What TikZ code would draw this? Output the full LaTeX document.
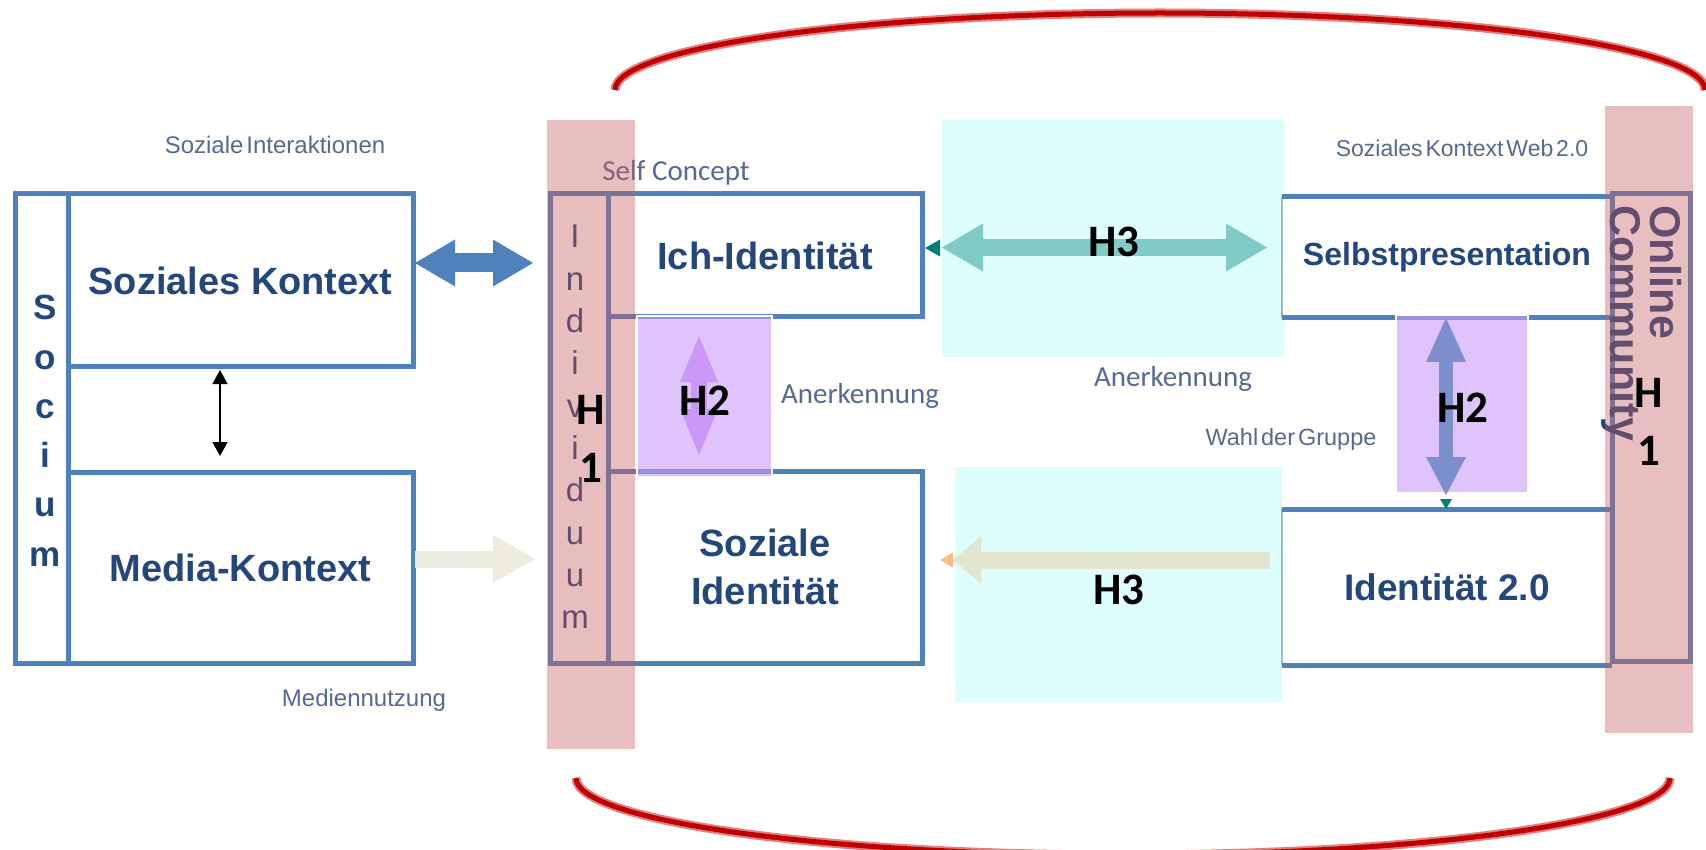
\documentclass[tikz,border=0pt]{standalone}
\usepackage{fontspec}
\setmainfont{Liberation Sans}
\newfontfamily\calfont{Carlito}
\newfontfamily\narrowfont[WordSpace=0.45]{Liberation Sans}
\usepackage{tikz}
\usetikzlibrary{arrows.meta}

\definecolor{boxblue}{RGB}{79,129,189}
\definecolor{txtblue}{RGB}{35,70,125}
\definecolor{lblblue}{RGB}{85,105,145}
\definecolor{pinkband}{RGB}{197,92,92}
\definecolor{cyanbg}{RGB}{222,253,253}
\definecolor{lilac}{RGB}{201,155,250}
\definecolor{lilacarrow}{RGB}{203,152,247}
\definecolor{tealarrow}{RGB}{126,203,199}
\definecolor{tealdark}{RGB}{0,130,120}
\definecolor{beigearrow}{RGB}{237,236,222}
\definecolor{beigegreen}{RGB}{226,229,207}
\definecolor{orangetip}{RGB}{250,190,130}
\definecolor{vertblue}{RGB}{125,142,205}
\definecolor{darkred}{RGB}{192,0,0}
\definecolor{lightred}{RGB}{226,128,128}

\begin{document}
\begin{tikzpicture}[x=1pt,y=-1pt,
    box/.style={draw=boxblue,line width=5pt,fill=white,inner sep=0pt,outer sep=0pt,
                anchor=north west,text=txtblue,align=center,
                font=\fontsize{38}{48}\selectfont\bfseries},
    wh/.style 2 args={minimum width=#1pt,minimum height=#2pt},
    boxline/.style={draw=boxblue,line width=5pt},
    thinline/.style={draw=boxblue!55,line width=2.5pt},
    lbl/.style={anchor=base,text=lblblue,font=\narrowfont\fontsize{24}{28}\selectfont},
    cal/.style={anchor=base,text=lblblue,font=\calfont\fontsize{29}{32}\selectfont},
    hyp/.style={font=\calfont\bfseries\fontsize{45}{58}\selectfont,align=center,inner sep=0pt},
    hbox/.style={fill=lilac,fill opacity=0.6,draw=white,line width=2pt,
                 inner sep=0pt,outer sep=0pt,anchor=north west},
    ring/.style={draw=lightred,line width=2pt,double=darkred,double distance=5pt}]
  \useasboundingbox (0,0) rectangle (1706,850);

  \fill[cyanbg] (942,120) rectangle (1284,357);
  \fill[cyanbg] (955,467) rectangle (1282,702);

  \node[box,wh={53}{469}] (soc) at (15,194) {};
  \node[box,wh={345}{173}] (sk) at (68,194) {Soziales Kontext};
  \node[box,wh={345}{191}] (mk) at (68,472) {Media-Kontext};
  \foreach \ch [count=\i] in {S,o,c,i,u,m}
    \node[anchor=base,text=txtblue,font=\fontsize{35}{35}\selectfont\bfseries]
      (s\i) at (45,{320+49.2*(\i-1)}) {\ch};

  \node[box,wh={58}{469}] (ind) at (550,194) {};
  \node[box,wh={314}{123}] (ich) at (608,194) {Ich-Identität};
  \node[box,wh={314}{192}] (si) at (608,471) {Soziale\\Identität};
  \foreach \ch [count=\i] in {I,n,d,i,v,i,d,u,u,m}
    \node[anchor=base,text=txtblue,font=\fontsize{33}{33}\selectfont]
      (i\i) at (575,{248+42.3*(\i-1)}) {\ch};

  \node[box,draw=none,wh={330}{121},font=\fontsize{32}{40}\selectfont\bfseries]
    (sp) at (1282,197) {Selbstpresentation};
  \node[box,draw=none,wh={330}{156},font=\fontsize{37}{44}\selectfont\bfseries]
    (id2) at (1282,509) {Identität 2.0};
  \draw[thinline] (sp.north west) -- (sp.south west) (id2.north west) -- (id2.south west);
  \draw[boxline] (sp.north west) -- (sp.north east) (sp.south west) -- (sp.south east)
                 (id2.north west) -- (id2.north east) (id2.south west) -- (id2.south east);
  \node[box,fill=none,wh={78}{467}] (oc) at (1612,194) {};
  \node[rotate=-90,anchor=north west,inner sep=0pt,align=left,text=txtblue,
        font=\fontsize{43}{40}\selectfont\bfseries] (octext) at (1682,205) {Online\\Community};

  \node[hbox,wh={135}{161}] (h2l) at (637,316) {};
  \node[hbox,wh={132}{178}] (h2r) at (1396,315) {};

  \draw[line width=1.5pt,{Triangle[length=14pt,width=15pt]}-{Triangle[length=14pt,width=15pt]},
        shorten <=3pt,shorten >=16pt]
    ([xshift=-20.5pt]sk.south) -- ([xshift=-20.5pt]mk.north);
  \draw[boxblue,line width=19pt,shorten <=2pt,shorten >=17pt,
        {Triangle[length=40pt,width=47pt,line width=0pt]}-{Triangle[length=40pt,width=47pt,line width=0pt]}]
    ([yshift=17.5pt]sk.east) -- ([yshift=165.5pt]ind.west);
  \draw[beigearrow,line width=17pt,shorten <=2pt,shorten >=15pt,
        -{Triangle[length=42pt,width=48pt,line width=0pt]}]
    ([yshift=8.5pt]mk.east) -- ([yshift=-130.5pt]ind.west);
  \draw[tealarrow,line width=17pt,shorten <=20pt,shorten >=15pt,
        {Triangle[length=41pt,width=48pt,line width=0pt]}-{Triangle[length=41pt,width=48pt,line width=0pt]}]
    ([yshift=8pt]ich.east) -- ([yshift=10pt]sp.west);
  \fill[tealdark] ([shift={(3,-7.5)}]ich.east) -- ++(15,-8.5) -- ++(0,17) -- cycle;
  \draw[beigegreen,line width=17pt,shorten <=12pt,shorten >=31pt,
        -{Triangle[length=28pt,width=47pt,line width=0pt]}]
    ([yshift=27pt]id2.west) -- ([yshift=7pt]si.east);
  \fill[orangetip] ([shift={(18,-7)}]si.east) -- ++(13,-7.5) -- ++(0,15) -- cycle;
  \draw[vertblue,line width=14pt,shorten >=14pt,
        {Triangle[length=44pt,width=40pt,line width=0pt]}-{Triangle[length=38pt,width=40pt,line width=0pt]}]
    ([xshift=-1pt]sp.south) -- ([xshift=-1pt]id2.north);
  \fill[tealdark] ([xshift=-1pt]id2.north) -- ++(-6,-10) -- ++(12,0) -- cycle;
  \draw[lilacarrow,line width=16pt,shorten <=20pt,shorten >=22pt,
        {Triangle[length=46pt,width=38pt,line width=0pt]}-{Triangle[length=46pt,width=38pt,line width=0pt]}]
    ([xshift=-5.5pt]h2l.north) -- ([xshift=-5.5pt]h2l.south);

  \node[lbl] (interakt) at (275,154) {Soziale Interaktionen};
  \node[lbl] (nutzung) at (364,706) {Mediennutzung};
  \node[cal] (self) at (676,181) {Self Concept};
  \node[cal] (anerk1) at (860,403) {Anerkennung};
  \node[cal] (anerk2) at (1173,386) {Anerkennung};
  \node[lbl,font=\narrowfont\fontsize{23.5}{28}\selectfont] (wahl) at (1291,445) {Wahl der Gruppe};
  \node[lbl,font=\narrowfont\fontsize{23}{28}\selectfont] (web) at (1462,157) {Soziales Kontext Web 2.0};

  \fill[pinkband,opacity=0.4] (547,120) rectangle (635,749);
  \fill[pinkband,opacity=0.4] (1605,106) rectangle (1693,733);

  \node[hyp,anchor=base] (h2a) at (705,415) {H2};
  \node[hyp,anchor=base] (h2b) at (1463,422) {H2};
  \node[hyp,anchor=base] (h3a) at (1114,257) {H3};
  \node[hyp,anchor=base] (h3b) at (1119,604) {H3};
  \node[hyp,anchor=north] (h1a) at (591,395) {H\\1};
  \node[hyp,anchor=north] (h1b) at (1649,378) {H\\1};

  \draw[ring] (615,90) arc[start angle=180,end angle=360,x radius=545,y radius=77];
  \draw[ring] (576,778) arc[start angle=180,end angle=0,x radius=547,y radius=77];
\end{tikzpicture}
\end{document}
